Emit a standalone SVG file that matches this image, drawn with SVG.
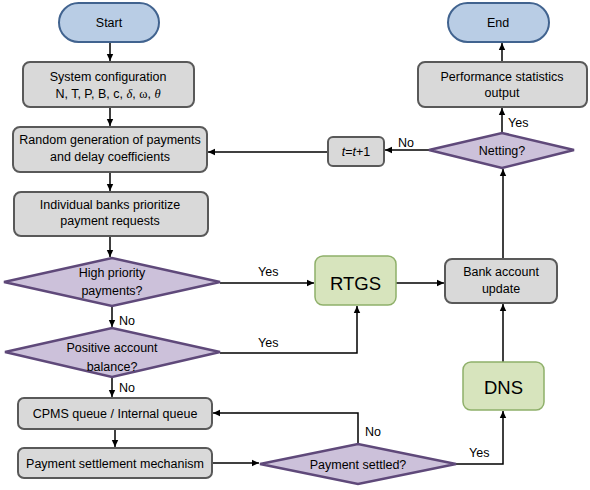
<svg xmlns="http://www.w3.org/2000/svg" width="590" height="490" viewBox="0 0 590 490">
<defs>
<marker id="ah" markerWidth="8" markerHeight="8" refX="7" refY="4" orient="auto" markerUnits="userSpaceOnUse">
<path d="M0,0.8 L7,4 L0,7.2 Z" fill="#000"/>
</marker>
<style>
text{font-family:"Liberation Sans",Arial,sans-serif;font-size:12.5px;fill:#000;text-anchor:middle}
.term{fill:#b9cde5;stroke:#41638f;stroke-width:2}
.proc{fill:#d9d9d9;stroke:#595959;stroke-width:2}
.dec{fill:#ccc1da;stroke:#5f497a;stroke-width:2.5}
.grn{fill:#d7e4bd;stroke:#8fb06a;stroke-width:1.5}
.big{font-size:18.5px}
.c{fill:none;stroke:#000;stroke-width:1.5}
.ca{fill:none;stroke:#000;stroke-width:1.5;marker-end:url(#ah)}
.lbl{text-anchor:start}
</style>
</defs>
<g id="connectors">
<line class="ca" x1="110" y1="42" x2="110" y2="61"/>
<line class="ca" x1="110" y1="107" x2="110" y2="126"/>
<line class="ca" x1="110" y1="172" x2="110" y2="191"/>
<line class="ca" x1="110" y1="236" x2="110" y2="257"/>
<line class="ca" x1="112" y1="306" x2="112" y2="327"/>
<line class="ca" x1="112" y1="377" x2="112" y2="397"/>
<line class="ca" x1="115" y1="429" x2="115" y2="447"/>
<line class="ca" x1="212" y1="463" x2="259" y2="463"/>
<line class="ca" x1="220" y1="283" x2="314" y2="283"/>
<polyline class="ca" points="220,353 357,353 357,306"/>
<polyline class="ca" points="358,444 358,413 213,413"/>
<polyline class="ca" points="456,464 503,464 503,411"/>
<line class="ca" x1="503" y1="362" x2="503" y2="304"/>
<line class="ca" x1="396" y1="283" x2="444" y2="283"/>
<line class="ca" x1="503" y1="259" x2="503" y2="169"/>
<line class="ca" x1="502" y1="133" x2="502" y2="108"/>
<line class="ca" x1="502" y1="62" x2="502" y2="43"/>
<line class="ca" x1="429" y1="150" x2="385" y2="150"/>
<line class="ca" x1="328" y1="152" x2="208" y2="152"/>
<text class="lbl" x="258" y="276">Yes</text>
<text class="lbl" x="258" y="347">Yes</text>
<text class="lbl" x="119" y="325">No</text>
<text class="lbl" x="119" y="392">No</text>
<text class="lbl" x="365" y="436">No</text>
<text class="lbl" x="469" y="457">Yes</text>
<text class="lbl" x="508" y="127">Yes</text>
<text class="lbl" x="398" y="147">No</text>
</g>
<g id="start"><rect class="term" x="59" y="3" width="100" height="39" rx="19.5"/><text x="109" y="27">Start</text></g>
<g id="end"><rect class="term" x="448" y="3" width="101" height="39" rx="19.5"/><text x="498" y="27">End</text></g>
<g id="config"><rect class="proc" x="23" y="62" width="171" height="45" rx="7"/><text x="108" y="81">System configuration</text><text x="108" y="98">N, T, P, B, c, <tspan font-family="Liberation Serif" font-style="italic">δ</tspan>, <tspan font-family="Liberation Serif">ω</tspan>, <tspan font-family="Liberation Serif" font-style="italic">θ</tspan></text></g>
<g id="random"><rect class="proc" x="13" y="127" width="194" height="45" rx="7"/><text x="110" y="144">Random generation of payments</text><text x="110" y="161">and delay coefficients</text></g>
<g id="prioritize"><rect class="proc" x="14" y="192" width="194" height="44" rx="7"/><text x="110" y="209">Individual banks prioritize</text><text x="110" y="225">payment requests</text></g>
<g id="highprio"><polygon class="dec" points="4,282 112,258 220,282 112,306"/><text x="112" y="277">High priority</text><text x="112" y="295">payments?</text></g>
<g id="positive"><polygon class="dec" points="5,352 112,328 220,352 112,377"/><text x="112" y="352">Positive account</text><text x="112" y="371">balance?</text></g>
<g id="cpms"><rect class="proc" x="18" y="398" width="194" height="31" rx="6"/><text x="115" y="418">CPMS queue / Internal queue</text></g>
<g id="psm"><rect class="proc" x="18" y="448" width="194" height="30" rx="6"/><text x="115" y="468">Payment settlement mechanism</text></g>
<g id="settled"><polygon class="dec" points="260,464 358,444 456,464 358,484"/><text x="358" y="469">Payment settled?</text></g>
<g id="rtgs"><rect class="grn" x="315" y="256" width="81" height="49" rx="8"/><text class="big" x="355.5" y="290">RTGS</text></g>
<g id="dns"><rect class="grn" x="463" y="362" width="81" height="48" rx="8"/><text class="big" x="503.5" y="394">DNS</text></g>
<g id="bank"><rect class="proc" x="445" y="259" width="112" height="44" rx="7"/><text x="501" y="276">Bank account</text><text x="501" y="293">update</text></g>
<g id="netting"><polygon class="dec" points="429,150 502,133 574,150 502,168"/><text x="502" y="155">Netting?</text></g>
<g id="perf"><rect class="proc" x="418" y="62" width="169" height="45" rx="7"/><text x="502" y="81">Performance statistics</text><text x="502" y="97">output</text></g>
<g id="tinc"><rect class="proc" x="328" y="137" width="56" height="29" rx="5"/><text x="356" y="156"><tspan font-style="italic">t</tspan>=<tspan font-style="italic">t</tspan>+1</text></g>
</svg>
